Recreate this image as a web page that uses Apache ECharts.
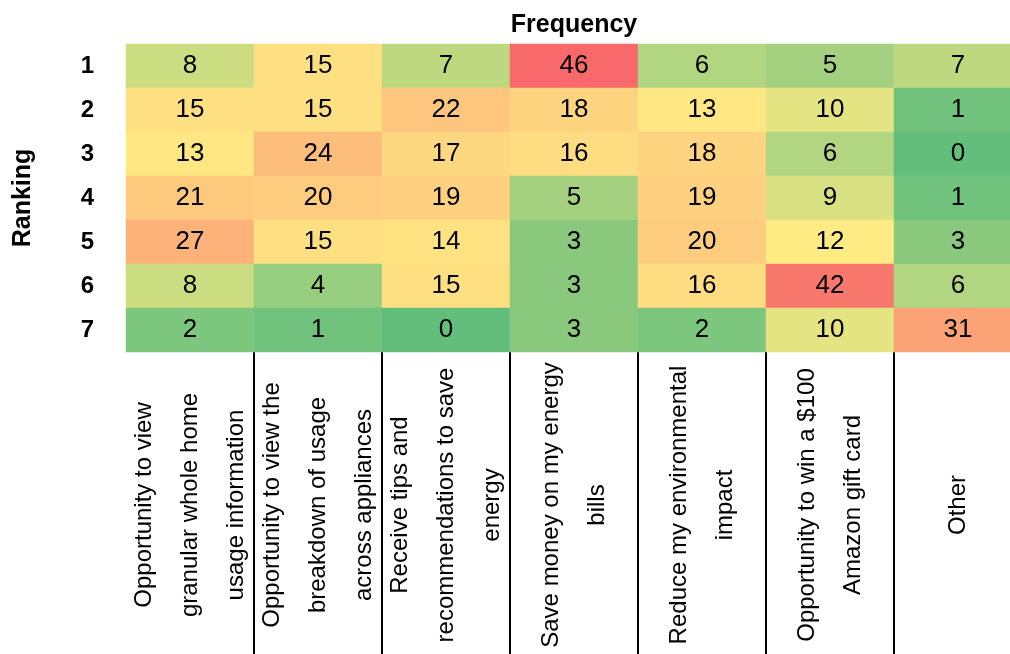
<!DOCTYPE html>
<html>
<head>
<meta charset="utf-8">
<script src="https://cdn.jsdelivr.net/npm/echarts@6/dist/echarts.min.js"></script>
<style>
  html, body { margin: 0; padding: 0; background: #ffffff; }
  #chart { width: 1010px; height: 654px; }
</style>
</head>
<body>
<div id="chart"></div>
<script>
// Survey motivations (columns) and the ranking each respondent gave them (rows)
const motivations = [
  'Opportunity to view\ngranular whole home\nusage information',
  'Opportunity to view the\nbreakdown of usage\nacross appliances',
  'Receive tips and\nrecommendations to save\nenergy',
  'Save money on my energy\nbills',
  'Reduce my environmental\nimpact',
  'Opportunity to win a $100\nAmazon gift card',
  'Other'
];
const rankings = ['1', '2', '3', '4', '5', '6', '7'];

// Frequency of each ranking, one array per ranking, in column order
const rank1 = [8, 15, 7, 46, 6, 5, 7];
const rank2 = [15, 15, 22, 18, 13, 10, 1];
const rank3 = [13, 24, 17, 16, 18, 6, 0];
const rank4 = [21, 20, 19, 5, 19, 9, 1];
const rank5 = [27, 15, 14, 3, 20, 12, 3];
const rank6 = [8, 4, 15, 3, 16, 42, 6];
const rank7 = [2, 1, 0, 3, 2, 10, 31];
const frequencyRows = [rank1, rank2, rank3, rank4, rank5, rank6, rank7];

const FONT = "'Liberation Sans Narrow', 'Arial Narrow', 'Liberation Sans', Arial, sans-serif";

// Three-colour scale: green at the minimum, yellow at the median, red at the maximum
const LOW = [99, 190, 123], MID = [255, 235, 132], HIGH = [248, 105, 107];
const allValues = frequencyRows.flat().slice().sort((a, b) => a - b);
const vMin = allValues[0];
const vMax = allValues[allValues.length - 1];
const vMid = (function () {
  const pos = (allValues.length - 1) * 0.5;
  const lo = Math.floor(pos), hi = Math.ceil(pos);
  return allValues[lo] + (allValues[hi] - allValues[lo]) * (pos - lo);
})();
function mix(a, b, t) {
  return 'rgb(' + a.map((c, i) => Math.round(c + (b[i] - c) * t)).join(',') + ')';
}
function scaleColor(v) {
  if (v <= vMid) return mix(LOW, MID, vMid === vMin ? 1 : (v - vMin) / (vMid - vMin));
  return mix(MID, HIGH, (v - vMid) / (vMax - vMid));
}

const cells = [];
frequencyRows.forEach((row, r) => {
  row.forEach((v, c) => {
    cells.push({ value: [c, r, v], itemStyle: { color: scaleColor(v) } });
  });
});

const chart = echarts.init(document.getElementById('chart'), null, { renderer: 'canvas' });
chart.setOption({
  backgroundColor: '#ffffff',
  animation: false,
  grid: {
    left: 126, top: 44, width: 896, height: 308,
    outerBoundsMode: 'none'
  },
  xAxis: [
    {
      type: 'category',
      data: motivations,
      position: 'bottom',
      axisLine: { show: false },
      axisTick: {
        show: true,
        length: 302,
        interval: function (index) { return index !== 0; },
        lineStyle: { color: '#000000', width: 2 }
      },
      splitLine: { show: false },
      axisLabel: {
        interval: 0,
        rotate: 90,
        align: 'center',
        verticalAlign: 'middle',
        margin: 153,
        fontFamily: FONT,
        fontSize: 24,
        lineHeight: 46,
        color: '#000000'
      }
    },
    {
      type: 'category',
      data: motivations,
      position: 'top',
      name: 'Frequency',
      nameLocation: 'middle',
      nameGap: 6,
      nameTextStyle: { fontFamily: FONT, fontWeight: 'bold', fontSize: 25, color: '#000000' },
      axisLine: { show: false },
      axisTick: { show: false },
      axisLabel: { show: false },
      splitLine: { show: false }
    }
  ],
  yAxis: {
    type: 'category',
    data: rankings,
    inverse: true,
    name: 'Ranking',
    nameLocation: 'middle',
    nameRotate: 90,
    nameGap: 90,
    nameTextStyle: { fontFamily: FONT, fontWeight: 'bold', fontSize: 25, color: '#000000' },
    axisLine: { show: false },
    axisTick: { show: false },
    splitLine: { show: false },
    axisLabel: {
      margin: 32,
      fontFamily: FONT,
      fontWeight: 'bold',
      fontSize: 24,
      color: '#000000'
    }
  },
  series: [{
    type: 'heatmap',
    xAxisIndex: 0,
    yAxisIndex: 0,
    data: cells,
    label: {
      show: true,
      fontFamily: FONT,
      fontSize: 26,
      color: '#000000'
    },
    emphasis: { disabled: true }
  }]
});
</script>
</body>
</html>
